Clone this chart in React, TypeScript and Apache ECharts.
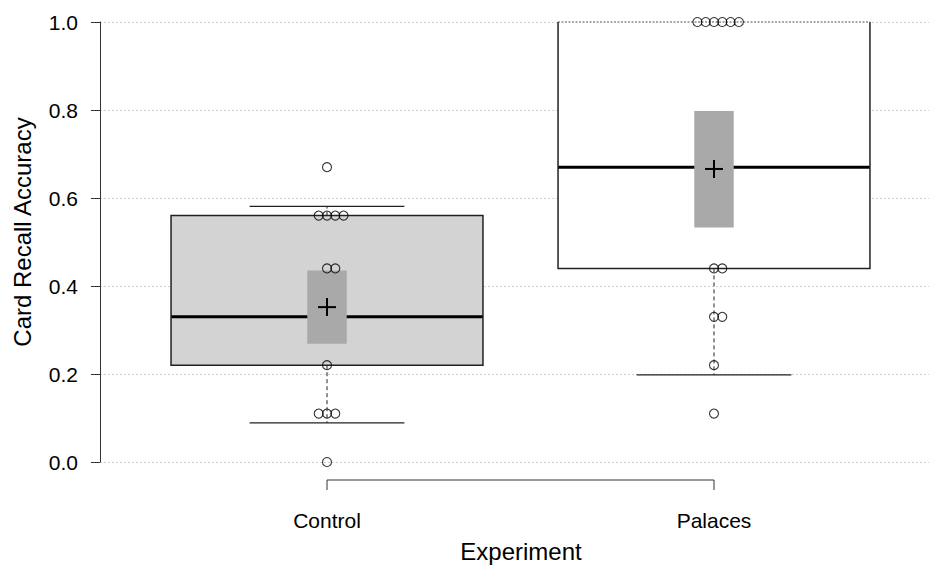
import React, { useEffect, useRef } from "react";
import * as echarts from "echarts";

// ---- data ----
const categories = ["Control", "Palaces"];
const categoryPositions = [1, 2];
const controlScores = [0.67, 0.56, 0.56, 0.56, 0.56, 0.44, 0.44, 0.22, 0.11, 0.11, 0.11, 0.0];
const palacesScores = [1.0, 1.0, 1.0, 1.0, 1.0, 1.0, 0.44, 0.44, 0.33, 0.33, 0.22, 0.11];
const whiskerLow = [0.089, 0.198];
const quartile1 = [0.22, 0.44];
const medians = [0.33, 0.67];
const quartile3 = [0.56, 1.0];
const whiskerHigh = [0.581, 1.0];
const means = [0.352, 0.666];
const meanLow = [0.269, 0.533];
const meanHigh = [0.435, 0.798];
const boxFills = ["#d3d3d3", "#ffffff"];
const yTickValues = [0, 0.2, 0.4, 0.6, 0.8, 1.0];

const FONT = "'Liberation Sans', Arial, Helvetica, sans-serif";

// swarm placement: 0, +1, -1, +2, -2, +3 ...
function swarm(values: number[], center: number, step: number) {
  const seen: Record<string, number> = {};
  return values.map((v) => {
    const key = v.toFixed(3);
    const k = seen[key] || 0;
    seen[key] = k + 1;
    const off = k === 0 ? 0 : k % 2 === 1 ? (k + 1) / 2 : -k / 2;
    return [center + off * step, v];
  });
}

export default function App() {
  const ref = useRef<HTMLDivElement>(null);
  useEffect(() => {
    document.body.style.margin = "0";
    if (!ref.current) return;
    const chart = echarts.init(ref.current, null, { renderer: "svg" });

    // layout: category 1 at px 327, category 2 at px 714, plot spans px 100..929
    const unit = 714 - 327;
    const xMin = 1 - (327 - 100) / unit;
    const xMax = 2 + (929 - 714) / unit;
    const step = 8.3 / unit;

    const points = [
      ...swarm(controlScores, categoryPositions[0], step),
      ...swarm(palacesScores, categoryPositions[1], step),
    ];

    const boxHalf = 0.403;
    const capHalf = 0.2;
    const ciHalf = 0.051;
    const lineCol = "#222222";

    const option: any = {
      animation: false,
      backgroundColor: "#ffffff",
      grid: { left: 100, right: 0, top: 22, bottom: 103, outerBoundsMode: "none" },
      xAxis: {
        type: "value",
        min: xMin,
        max: xMax,
        axisLine: { show: false },
        axisTick: { show: false },
        splitLine: { show: false },
        axisLabel: {
          customValues: categoryPositions,
          formatter: (v: number) => categories[Math.round(v) - 1] || "",
          margin: 48,
          fontSize: 21,
          color: "#000",
          fontFamily: FONT,
        },
      },
      yAxis: {
        type: "value",
        min: 0,
        max: 1,
        interval: 0.2,
        axisLine: { show: true, lineStyle: { color: "#333", width: 1 } },
        axisTick: { show: true, length: 9, lineStyle: { color: "#333" }, customValues: yTickValues },
        axisLabel: {
          customValues: yTickValues,
          formatter: (v: number) => v.toFixed(1),
          margin: 22,
          fontSize: 21,
          color: "#000",
          fontFamily: FONT,
        },
        splitLine: { show: true, lineStyle: { color: "#cfcfcf", type: [2, 2], width: 1 } },
      },
      graphic: [
        {
          type: "text",
          x: 22,
          y: 232,
          rotation: Math.PI / 2,
          style: {
            text: "Card Recall Accuracy",
            font: `24px ${FONT}`,
            fill: "#000",
            textAlign: "center",
            textVerticalAlign: "middle",
          },
        },
        {
          type: "text",
          x: 521,
          y: 551,
          style: {
            text: "Experiment",
            font: `24px ${FONT}`,
            fill: "#000",
            textAlign: "center",
            textVerticalAlign: "middle",
          },
        },
      ],
      series: [
        {
          type: "custom",
          name: "boxes",
          clip: false,
          z: 2,
          data: categoryPositions.map((p, i) => [p, medians[i]]),
          renderItem: (params: any, api: any) => {
            const i = params.dataIndex;
            const x = api.value(0);
            const tl = api.coord([x - boxHalf, quartile3[i]]);
            const br = api.coord([x + boxHalf, quartile1[i]]);
            const children: any[] = [];
            children.push({
              type: "rect",
              shape: { x: tl[0], y: tl[1], width: br[0] - tl[0], height: br[1] - tl[1] },
              style: { fill: boxFills[i], stroke: "none" },
            });
            // whiskers
            const cx = api.coord([x, 0])[0];
            const q1p = api.coord([x, quartile1[i]])[1];
            const q3p = api.coord([x, quartile3[i]])[1];
            const wl = api.coord([x, whiskerLow[i]])[1];
            const wh = api.coord([x, whiskerHigh[i]])[1];
            const capL = api.coord([x - capHalf, 0])[0];
            const capR = api.coord([x + capHalf, 0])[0];
            if (whiskerLow[i] < quartile1[i]) {
              children.push({
                type: "line",
                shape: { x1: cx, y1: q1p, x2: cx, y2: wl },
                style: { stroke: lineCol, lineWidth: 1, lineDash: [4, 3] },
              });
              children.push({
                type: "line",
                shape: { x1: capL, y1: wl, x2: capR, y2: wl },
                style: { stroke: lineCol, lineWidth: 1.2 },
              });
            }
            if (whiskerHigh[i] > quartile3[i]) {
              children.push({
                type: "line",
                shape: { x1: cx, y1: q3p, x2: cx, y2: wh },
                style: { stroke: lineCol, lineWidth: 1, lineDash: [4, 3] },
              });
              children.push({
                type: "line",
                shape: { x1: capL, y1: wh, x2: capR, y2: wh },
                style: { stroke: lineCol, lineWidth: 1.2 },
              });
            }
            // median
            const mp = api.coord([x, medians[i]])[1];
            children.push({
              type: "line",
              shape: { x1: tl[0], y1: mp, x2: br[0], y2: mp },
              style: { stroke: "#000", lineWidth: 3 },
            });
            // outline (top edge dotted when it sits on the plot top)
            const atTop = quartile3[i] >= 1.0;
            if (atTop) {
              children.push({
                type: "polyline",
                shape: { points: [[tl[0], tl[1]], [tl[0], br[1]], [br[0], br[1]], [br[0], tl[1]]] },
                style: { stroke: lineCol, lineWidth: 1.5, fill: "none" },
              });
              children.push({
                type: "line",
                shape: { x1: tl[0], y1: tl[1], x2: br[0], y2: tl[1] },
                style: { stroke: "#555", lineWidth: 1.2, lineDash: [2, 1.5] },
              });
            } else {
              children.push({
                type: "polygon",
                shape: { points: [[tl[0], tl[1]], [tl[0], br[1]], [br[0], br[1]], [br[0], tl[1]]] },
                style: { stroke: lineCol, lineWidth: 1.5, fill: "none" },
              });
            }
            // mean interval
            const ctl = api.coord([x - ciHalf, meanHigh[i]]);
            const cbr = api.coord([x + ciHalf, meanLow[i]]);
            children.push({
              type: "rect",
              shape: { x: ctl[0], y: ctl[1], width: cbr[0] - ctl[0], height: cbr[1] - ctl[1] },
              style: { fill: "#a9a9a9", stroke: "none" },
            });
            // mean cross
            const mn = api.coord([x, means[i]]);
            children.push({
              type: "line",
              shape: { x1: mn[0] - 9, y1: mn[1], x2: mn[0] + 9, y2: mn[1] },
              style: { stroke: "#000", lineWidth: 2 },
            });
            children.push({
              type: "line",
              shape: { x1: mn[0], y1: mn[1] - 9, x2: mn[0], y2: mn[1] + 9 },
              style: { stroke: "#000", lineWidth: 2 },
            });
            return { type: "group", children };
          },
        },
        {
          type: "custom",
          name: "bracket",
          clip: false,
          z: 2,
          data: [[categoryPositions[0], 0, categoryPositions[1]]],
          renderItem: (params: any, api: any) => {
            const a = api.coord([api.value(0), 0]);
            const b = api.coord([api.value(2), 0]);
            const y = a[1] + 18;
            return {
              type: "polyline",
              shape: { points: [[a[0], y + 10], [a[0], y], [b[0], y], [b[0], y + 10]] },
              style: { stroke: "#333", lineWidth: 1, fill: "none" },
            };
          },
        },
        {
          type: "scatter",
          name: "scores",
          z: 5,
          symbol: "circle",
          symbolSize: 9,
          itemStyle: { color: "rgba(0,0,0,0)", borderColor: "#000", borderWidth: 1.1 },
          data: points,
        },
      ],
    };
    chart.setOption(option);
    return () => chart.dispose();
  }, []);
  return <div ref={ref} style={{ width: 929, height: 565 }} />;
}
